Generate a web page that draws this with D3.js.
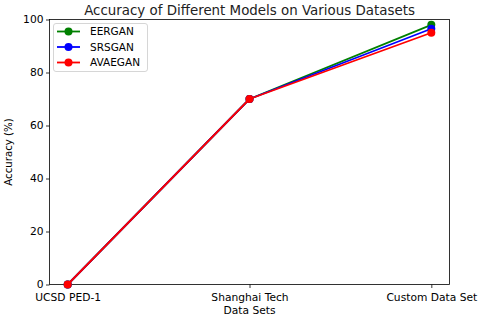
<!DOCTYPE html>
<html><head><meta charset="utf-8">
<script src="https://cdn.jsdelivr.net/npm/d3@7"></script>
<style>body{margin:0;background:#fff}svg{display:block;font-family:"DejaVu Sans",sans-serif}</style>
</head><body><svg id="c" width="480" height="316"></svg>
<script>
const categories = ["UCSD PED-1", "Shanghai Tech", "Custom Data Set"];
const seriesNames = ["EERGAN", "SRSGAN", "AVAEGAN"];
const eerganValues = [0, 70, 98];
const srsganValues = [0, 70, 96.5];
const avaeganValues = [0, 70, 95];
const yTicks = [0, 20, 40, 60, 80, 100];
const colors = ["#008000", "#0000ff", "#ff0000"];

const series = [eerganValues, srsganValues, avaeganValues].map((v, i) => ({name: seriesNames[i], values: v, color: colors[i]}));

const svg = d3.select("#c");
const L = 49.5, R = 449.5, T = 19.5, B = 284.5;
const x = d3.scaleLinear().domain([-0.1, categories.length - 1 + 0.1]).range([L, R]);
const y = d3.scaleLinear().domain([0, 100]).range([B, T]);

const xAxis = d3.axisBottom(x).tickValues(categories.map((d, i) => i)).tickFormat(i => categories[i]).tickSize(3.5).tickPadding(5);
const yAxis = d3.axisLeft(y).tickValues(yTicks).tickSize(3.5).tickPadding(2.5);

const gx = svg.append("g").attr("transform", `translate(0,${B})`).call(xAxis);
const gy = svg.append("g").attr("transform", `translate(${L},0)`).call(yAxis);
[gx, gy].forEach(g => {
  g.select(".domain").remove();
  g.selectAll("line").attr("stroke", "#000").attr("stroke-width", 0.8);
  g.selectAll("text").attr("font-size", 10.7).attr("fill", "#000").attr("font-family", "DejaVu Sans");
});

svg.append("rect").attr("x", L).attr("y", T).attr("width", R - L).attr("height", B - T)
  .attr("fill", "none").attr("stroke", "#000").attr("stroke-width", 0.8);

const line = d3.line().x((d, i) => x(i)).y(d => y(d));
series.forEach(s => {
  svg.append("path").attr("d", line(s.values)).attr("fill", "none")
    .attr("stroke", s.color).attr("stroke-width", 1.8).attr("stroke-linejoin", "round");
  svg.selectAll(null).data(s.values).enter().append("circle")
    .attr("cx", (d, i) => x(i)).attr("cy", d => y(d)).attr("r", 4).attr("fill", s.color);
});

svg.append("text").attr("x", (L + R) / 2).attr("y", 15).attr("text-anchor", "middle")
  .attr("font-size", 13.4).attr("fill", "#222").text("Accuracy of Different Models on Various Datasets");
svg.append("text").attr("x", (L + R) / 2).attr("y", 313.5).attr("text-anchor", "middle")
  .attr("font-size", 10.7).attr("fill", "#000").text("Data Sets");
svg.append("text").attr("transform", `translate(12,${(T + B) / 2}) rotate(-90)`).attr("text-anchor", "middle")
  .attr("font-size", 10.2).attr("fill", "#000").text("Accuracy (%)");

const lg = svg.append("g");
lg.append("rect").attr("x", 53.5).attr("y", 23.5).attr("width", 94).attr("height", 48).attr("rx", 2.5)
  .attr("fill", "#fff").attr("fill-opacity", 0.8).attr("stroke", "#ccc").attr("stroke-width", 0.8);
series.forEach((s, i) => {
  const yy = 31.5 + i * 15.5;
  lg.append("line").attr("x1", 57).attr("x2", 80).attr("y1", yy).attr("y2", yy).attr("stroke", s.color).attr("stroke-width", 1.8);
  lg.append("circle").attr("cx", 68.5).attr("cy", yy).attr("r", 4).attr("fill", s.color);
  lg.append("text").attr("x", 90).attr("y", yy + 3.8).attr("font-size", 10.5).attr("fill", "#000").text(s.name);
});
</script></body></html>
